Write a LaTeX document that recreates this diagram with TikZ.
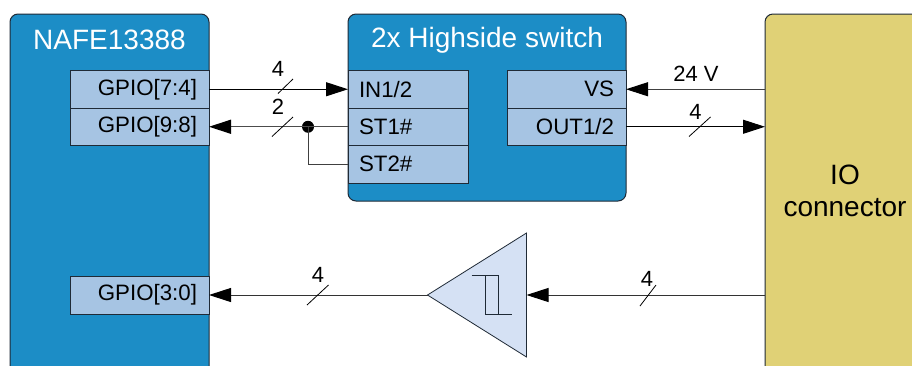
\documentclass[tikz,border=0pt]{standalone}
\usepackage{fontspec}
\setmainfont{Liberation Sans}
\usetikzlibrary{arrows.meta,shapes.geometric}
\definecolor{blockblue}{HTML}{1C8DC6}
\definecolor{portblue}{HTML}{A6C4E3}
\definecolor{iogold}{HTML}{E0D176}
\definecolor{tripale}{HTML}{D5E1F4}
\definecolor{edgedark}{HTML}{1F2A36}
\tikzset{
  every node/.style={outer sep=0pt},
  block/.style={draw=edgedark,line width=1pt,rounded corners=8pt,anchor=north west,inner sep=0pt},
  port/.style={draw=edgedark,line width=1pt,fill=portblue,anchor=north west,inner ysep=0pt,inner xsep=0pt,font=\fontsize{22.3}{26}\selectfont},
  portr/.style={port,align=right},
  portl/.style={port,align=left},
  titletext/.style={text=white,font=\fontsize{28}{32}\selectfont,inner sep=0pt},
  iotext/.style={font=\fontsize{28}{32}\selectfont,inner sep=0pt,align=center},
  lbl/.style={font=\fontsize{22}{26}\selectfont,inner sep=0pt},
  wire/.style={line width=1pt,color=black},
  tipstart/.style={{Triangle[length=22pt,width=14pt,color=black]}-},
  tipend/.style={-{Triangle[length=22pt,width=14pt,color=black]}},
  tick/.style={line width=0.8pt,color=black},
}
\begin{document}
\begin{tikzpicture}[x=1pt,y=-1pt]
\clip (0,0) rectangle (912,365);
\useasboundingbox (0,0) rectangle (912,365);
\fill[white] (0,0) rectangle (912,365);
% blocks
\node[block,fill=blockblue,minimum width=199pt,minimum height=380pt] (nafe) at (10,14) {};
\node[block,fill=blockblue,minimum width=278pt,minimum height=187pt] (sw) at (348,14) {};
\node[block,fill=iogold,minimum width=170pt,minimum height=380pt] (io) at (765,14) {};
\node[titletext,anchor=center] (nafet) at (109.5,40) {NAFE13388};
\node[titletext,anchor=center] (swt) at (487,40) {2x Highside switch};
\node[iotext,anchor=center] (iot) at (845,191) {IO\\connector};
% ports left
\node[portr,minimum width=139pt,minimum height=37.5pt,text width=115pt] (g74) at (70,70.5) {GPIO[7:4]};
\node[portr,minimum width=139pt,minimum height=37.5pt,text width=115pt] (g98) at (70,108) {GPIO[9:8]};
\node[portr,minimum width=139pt,minimum height=38pt,text width=115pt] (g30) at (70,276) {GPIO[3:0]};
% ports switch
\node[portl,minimum width=120pt,minimum height=37.5pt,text width=98pt] (in) at (348,70.5) {IN1/2};
\node[portl,minimum width=120pt,minimum height=37.5pt,text width=98pt] (st1) at (348,108) {ST1\#};
\node[portl,minimum width=120pt,minimum height=37.5pt,text width=98pt] (st2) at (348,145.5) {ST2\#};
\node[portr,minimum width=119pt,minimum height=37.5pt,text width=95pt] (vs) at (507,70.5) {VS};
\node[portr,minimum width=119pt,minimum height=37.5pt,text width=95pt] (out) at (507,108) {OUT1/2};
% buffer
\coordinate (apex) at (427.5,295);
\coordinate (tritop) at (526.5,233);
\coordinate (tribot) at (526.5,357);
\coordinate (trimid) at (526.5,295);
\draw[fill=tripale,draw=edgedark,line width=0.8pt,line join=miter] (apex) -- (tritop) -- (tribot) -- cycle;
\draw[draw=edgedark,line width=1pt] (471.5,275.5) -- (498.5,275.5) -- (498.5,314) -- (485,314) -- (485,275.5);
\draw[draw=edgedark,line width=1pt] (485,314) -- (512,314);
% connectors
\draw[wire,tipend] (g74.east) -- (in.west);
\node[circle,fill=black,inner sep=0pt,minimum size=12pt] (j) at (308,126.75) {};
\draw[wire,line width=1.3pt,color=black!70] (st1.west) -- (j.center);
\draw[wire,line width=1.3pt,color=black!70,tipstart] (g98.east) -- (j.center);
\draw[wire,color=black!75] (st2.west) -| (j.center);
\draw[wire,color=black!75,tipstart] (vs.east) -- (io.west |- vs.east);
\draw[wire,tipend] (out.east) -- (io.west |- out.east);
\draw[wire,color=black!80,tipstart] (g30.east) -- (apex);
\draw[wire,color=black!80,tipstart] (trimid) -- (io.west |- trimid);
% bus ticks
\draw[tick] (278,93.5) -- (293,79);
\draw[tick] (272,136.5) -- (293,117);
\draw[tick] (689,136.5) -- (710.5,117);
\draw[tick] (307,305) -- (328.5,285);
\draw[tick] (640,306) -- (656,285);
% labels
\node[lbl] (l1) at (278,69) {4};
\node[lbl] (l2) at (278,107) {2};
\node[lbl] (l3) at (696,73.5) {24 V};
\node[lbl] (l4) at (695.5,112) {4};
\node[lbl] (l5) at (318,275) {4};
\node[lbl] (l6) at (647,279) {4};
\end{tikzpicture}
\end{document}
